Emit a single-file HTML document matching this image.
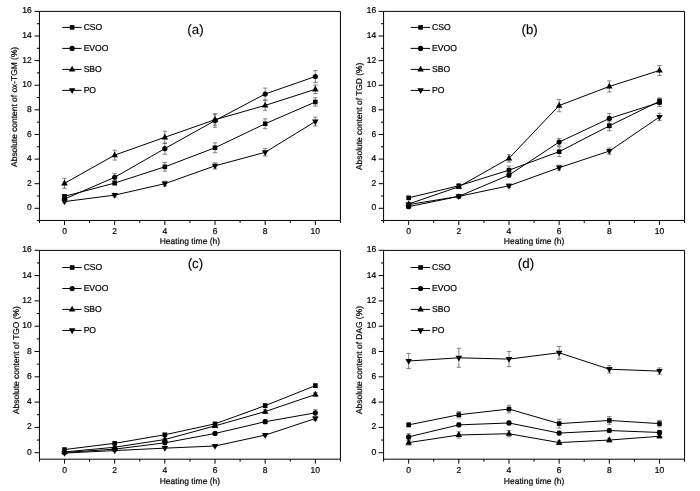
<!DOCTYPE html>
<html><head><meta charset="utf-8"><title>Figure</title>
<style>
html,body{margin:0;padding:0;background:#fff;}
body{width:700px;height:491px;overflow:hidden;font-family:"Liberation Sans",sans-serif;}
svg{display:block;will-change:transform;text-rendering:geometricPrecision;font-family:"Liberation Sans",sans-serif;fill:#000;}
text{stroke:#000;stroke-width:0.2px;paint-order:stroke;}
</style></head><body>
<svg width="700" height="491" viewBox="0 0 700 491">
<rect width="700" height="491" fill="#fff"/>
<g><path d="M39.43 11.4H340.43V220.45H39.43Z" fill="none" stroke="#000" stroke-width="1.0"/>
<path d="M36.83 220.61H39.43M34.53 208.30H39.43M36.83 195.99H39.43M34.53 183.69H39.43M36.83 171.38H39.43M34.53 159.08H39.43M36.83 146.77H39.43M34.53 134.46H39.43M36.83 122.16H39.43M34.53 109.85H39.43M36.83 97.55H39.43M34.53 85.24H39.43M36.83 72.93H39.43M34.53 60.63H39.43M36.83 48.32H39.43M34.53 36.02H39.43M36.83 23.71H39.43M34.53 11.40H39.43M39.43 220.45V222.95M64.51 220.45V224.95M89.59 220.45V222.95M114.68 220.45V224.95M139.76 220.45V222.95M164.84 220.45V224.95M189.93 220.45V222.95M215.01 220.45V224.95M240.09 220.45V222.95M265.17 220.45V224.95M290.26 220.45V222.95M315.34 220.45V224.95M340.42 220.45V222.95" stroke="#000" stroke-width="1.0" fill="none"/>
<text x="31.83" y="210.35" text-anchor="end" font-size="8.5">0</text>
<text x="31.83" y="185.74" text-anchor="end" font-size="8.5">2</text>
<text x="31.83" y="161.13" text-anchor="end" font-size="8.5">4</text>
<text x="31.83" y="136.51" text-anchor="end" font-size="8.5">6</text>
<text x="31.83" y="111.90" text-anchor="end" font-size="8.5">8</text>
<text x="31.83" y="87.29" text-anchor="end" font-size="8.5">10</text>
<text x="31.83" y="62.68" text-anchor="end" font-size="8.5">12</text>
<text x="31.83" y="38.07" text-anchor="end" font-size="8.5">14</text>
<text x="31.83" y="13.45" text-anchor="end" font-size="8.5">16</text>
<text x="64.51" y="234.15" text-anchor="middle" font-size="8.5">0</text>
<text x="114.68" y="234.15" text-anchor="middle" font-size="8.5">2</text>
<text x="164.84" y="234.15" text-anchor="middle" font-size="8.5">4</text>
<text x="215.01" y="234.15" text-anchor="middle" font-size="8.5">6</text>
<text x="265.17" y="234.15" text-anchor="middle" font-size="8.5">8</text>
<text x="315.34" y="234.15" text-anchor="middle" font-size="8.5">10</text>
<text x="189.93" y="243.50" text-anchor="middle" font-size="8.5">Heating time (h)</text>
<text transform="translate(16.80 166.90) rotate(-90)" font-size="8.42">Absolute content of ox-TGM (%)</text>
<text x="195.5" y="33.5" text-anchor="middle" style="stroke-width:0.12px" font-size="13.3">(a)</text>
<path d="M62.28 27.4H81.56" stroke="#000" stroke-width="1.0"/>
<rect x="69.83" y="25.10" width="4.6" height="4.6"/>
<text x="83.63" y="30.15" font-size="8.6">CSO</text>
<path d="M62.28 48.4H81.56" stroke="#000" stroke-width="1.0"/>
<circle cx="72.13" cy="48.40" r="2.6"/>
<text x="83.63" y="51.15" font-size="8.6">EVOO</text>
<path d="M62.28 69.4H81.56" stroke="#000" stroke-width="1.0"/>
<path d="M72.13 65.69L75.38 71.49L68.88 71.49Z"/>
<text x="83.63" y="72.15" font-size="8.6">SBO</text>
<path d="M62.28 90.4H81.56" stroke="#000" stroke-width="1.0"/>
<path d="M72.13 94.11L75.38 88.31L68.88 88.31Z"/>
<text x="83.63" y="93.15" font-size="8.6">PO</text>
<path d="M64.51 194.52V198.21M62.31 194.52h4.4M62.31 198.21h4.4M114.68 181.23V184.92M112.48 181.23h4.4M112.48 184.92h4.4M164.84 162.52V171.14M162.64 162.52h4.4M162.64 171.14h4.4M215.01 142.83V152.68M212.81 142.83h4.4M212.81 152.68h4.4M265.17 118.84V128.68M262.97 118.84h4.4M262.97 128.68h4.4M315.34 97.79V106.16M313.14 97.79h4.4M313.14 106.16h4.4M64.51 197.22V200.92M62.31 197.22h4.4M62.31 200.92h4.4M114.68 173.60V180.98M112.48 173.60h4.4M112.48 180.98h4.4M164.84 142.96V154.28M162.64 142.96h4.4M162.64 154.28h4.4M215.01 113.79V127.33M212.81 113.79h4.4M212.81 127.33h4.4M265.17 88.07V99.88M262.97 88.07h4.4M262.97 99.88h4.4M315.34 70.60V82.41M313.14 70.60h4.4M313.14 82.41h4.4M64.51 178.27V188.36M62.31 178.27h4.4M62.31 188.36h4.4M114.68 150.22V160.06M112.48 150.22h4.4M112.48 160.06h4.4M164.84 131.14V143.45M162.64 131.14h4.4M162.64 143.45h4.4M215.01 114.16V125.23M212.81 114.16h4.4M212.81 125.23h4.4M265.17 100.50V110.34M262.97 100.50h4.4M262.97 110.34h4.4M315.34 84.99V93.61M313.14 84.99h4.4M313.14 93.61h4.4M64.51 200.36V202.82M62.31 200.36h4.4M62.31 202.82h4.4M114.68 193.29V196.98M112.48 193.29h4.4M112.48 196.98h4.4M164.84 181.23V186.15M162.64 181.23h4.4M162.64 186.15h4.4M215.01 162.77V168.92M212.81 162.77h4.4M212.81 168.92h4.4M265.17 148.62V156.00M262.97 148.62h4.4M262.97 156.00h4.4M315.34 117.11V125.97M313.14 117.11h4.4M313.14 125.97h4.4" stroke="#555" stroke-width="0.7" fill="none"/>
<polyline fill="none" stroke="#000" stroke-width="1.0" points="64.51,196.36 114.68,183.07 164.84,166.83 215.01,147.75 265.17,123.76 315.34,101.98"/>
<rect x="62.21" y="194.06" width="4.6" height="4.6"/>
<rect x="112.38" y="180.77" width="4.6" height="4.6"/>
<rect x="162.54" y="164.53" width="4.6" height="4.6"/>
<rect x="212.71" y="145.45" width="4.6" height="4.6"/>
<rect x="262.87" y="121.46" width="4.6" height="4.6"/>
<rect x="313.04" y="99.68" width="4.6" height="4.6"/>
<polyline fill="none" stroke="#000" stroke-width="1.0" points="64.51,199.07 114.68,177.29 164.84,148.62 215.01,120.56 265.17,93.98 315.34,76.50"/>
<circle cx="64.51" cy="199.07" r="2.6"/>
<circle cx="114.68" cy="177.29" r="2.6"/>
<circle cx="164.84" cy="148.62" r="2.6"/>
<circle cx="215.01" cy="120.56" r="2.6"/>
<circle cx="265.17" cy="93.98" r="2.6"/>
<circle cx="315.34" cy="76.50" r="2.6"/>
<polyline fill="none" stroke="#000" stroke-width="1.0" points="64.51,183.32 114.68,155.14 164.84,137.29 215.01,119.70 265.17,105.42 315.34,89.30"/>
<path d="M64.51 179.61L67.76 185.41L61.26 185.41Z"/>
<path d="M114.68 151.43L117.93 157.23L111.43 157.23Z"/>
<path d="M164.84 133.58L168.09 139.38L161.59 139.38Z"/>
<path d="M215.01 115.98L218.26 121.78L211.76 121.78Z"/>
<path d="M265.17 101.71L268.42 107.51L261.92 107.51Z"/>
<path d="M315.34 85.59L318.59 91.39L312.09 91.39Z"/>
<polyline fill="none" stroke="#000" stroke-width="1.0" points="64.51,201.59 114.68,195.13 164.84,183.69 215.01,165.84 265.17,152.31 315.34,121.54"/>
<path d="M64.51 205.31L67.76 199.51L61.26 199.51Z"/>
<path d="M114.68 198.84L117.93 193.04L111.43 193.04Z"/>
<path d="M164.84 187.40L168.09 181.60L161.59 181.60Z"/>
<path d="M215.01 169.56L218.26 163.76L211.76 163.76Z"/>
<path d="M265.17 156.02L268.42 150.22L261.92 150.22Z"/>
<path d="M315.34 125.25L318.59 119.45L312.09 119.45Z"/></g>
<g><path d="M383.57 11.4H684.57V220.45H383.57Z" fill="none" stroke="#000" stroke-width="1.0"/>
<path d="M380.97 220.61H383.57M378.67 208.30H383.57M380.97 195.99H383.57M378.67 183.69H383.57M380.97 171.38H383.57M378.67 159.08H383.57M380.97 146.77H383.57M378.67 134.46H383.57M380.97 122.16H383.57M378.67 109.85H383.57M380.97 97.55H383.57M378.67 85.24H383.57M380.97 72.93H383.57M378.67 60.63H383.57M380.97 48.32H383.57M378.67 36.02H383.57M380.97 23.71H383.57M378.67 11.40H383.57M383.57 220.45V222.95M408.65 220.45V224.95M433.73 220.45V222.95M458.82 220.45V224.95M483.90 220.45V222.95M508.98 220.45V224.95M534.06 220.45V222.95M559.15 220.45V224.95M584.23 220.45V222.95M609.31 220.45V224.95M634.40 220.45V222.95M659.48 220.45V224.95M684.56 220.45V222.95" stroke="#000" stroke-width="1.0" fill="none"/>
<text x="376.27" y="210.35" text-anchor="end" font-size="8.5">0</text>
<text x="376.27" y="185.74" text-anchor="end" font-size="8.5">2</text>
<text x="376.27" y="161.13" text-anchor="end" font-size="8.5">4</text>
<text x="376.27" y="136.51" text-anchor="end" font-size="8.5">6</text>
<text x="376.27" y="111.90" text-anchor="end" font-size="8.5">8</text>
<text x="376.27" y="87.29" text-anchor="end" font-size="8.5">10</text>
<text x="376.27" y="62.68" text-anchor="end" font-size="8.5">12</text>
<text x="376.27" y="38.07" text-anchor="end" font-size="8.5">14</text>
<text x="376.27" y="13.45" text-anchor="end" font-size="8.5">16</text>
<text x="408.65" y="234.15" text-anchor="middle" font-size="8.5">0</text>
<text x="458.82" y="234.15" text-anchor="middle" font-size="8.5">2</text>
<text x="508.98" y="234.15" text-anchor="middle" font-size="8.5">4</text>
<text x="559.15" y="234.15" text-anchor="middle" font-size="8.5">6</text>
<text x="609.31" y="234.15" text-anchor="middle" font-size="8.5">8</text>
<text x="659.48" y="234.15" text-anchor="middle" font-size="8.5">10</text>
<text x="534.07" y="243.50" text-anchor="middle" font-size="8.5">Heating time (h)</text>
<text transform="translate(362.20 170.00) rotate(-90)" font-size="8.42">Absolute content of TGD (%)</text>
<text x="529.6" y="33.5" text-anchor="middle" style="stroke-width:0.12px" font-size="13.3">(b)</text>
<path d="M410.72 27.4H430.00" stroke="#000" stroke-width="1.0"/>
<rect x="418.27" y="25.10" width="4.6" height="4.6"/>
<text x="432.07" y="30.15" font-size="8.6">CSO</text>
<path d="M410.72 48.4H430.00" stroke="#000" stroke-width="1.0"/>
<circle cx="420.57" cy="48.40" r="2.6"/>
<text x="432.07" y="51.15" font-size="8.6">EVOO</text>
<path d="M410.72 69.4H430.00" stroke="#000" stroke-width="1.0"/>
<path d="M420.57 65.69L423.82 71.49L417.32 71.49Z"/>
<text x="432.07" y="72.15" font-size="8.6">SBO</text>
<path d="M410.72 90.4H430.00" stroke="#000" stroke-width="1.0"/>
<path d="M420.57 94.11L423.82 88.31L417.32 88.31Z"/>
<text x="432.07" y="93.15" font-size="8.6">PO</text>
<path d="M408.65 196.61V199.07M406.45 196.61h4.4M406.45 199.07h4.4M458.82 184.55V187.01M456.62 184.55h4.4M456.62 187.01h4.4M508.98 166.09V174.21M506.78 166.09h4.4M506.78 174.21h4.4M559.15 146.77V156.61M556.95 146.77h4.4M556.95 156.61h4.4M609.31 120.93V130.77M607.11 120.93h4.4M607.11 130.77h4.4M659.48 97.92V104.56M657.28 97.92h4.4M657.28 104.56h4.4M408.65 205.47V207.93M406.45 205.47h4.4M406.45 207.93h4.4M458.82 195.13V197.59M456.62 195.13h4.4M456.62 197.59h4.4M508.98 172.61V177.54M506.78 172.61h4.4M506.78 177.54h4.4M559.15 138.28V145.91M556.95 138.28h4.4M556.95 145.91h4.4M609.31 113.54V123.39M607.11 113.54h4.4M607.11 123.39h4.4M659.48 98.41V106.53M657.28 98.41h4.4M657.28 106.53h4.4M408.65 202.76V205.22M406.45 202.76h4.4M406.45 205.22h4.4M458.82 184.92V188.61M456.62 184.92h4.4M456.62 188.61h4.4M508.98 154.65V162.03M506.78 154.65h4.4M506.78 162.03h4.4M559.15 99.39V111.70M556.95 99.39h4.4M556.95 111.70h4.4M609.31 80.93V92.01M607.11 80.93h4.4M607.11 92.01h4.4M659.48 65.55V75.40M657.28 65.55h4.4M657.28 75.40h4.4M408.65 203.38V205.84M406.45 203.38h4.4M406.45 205.84h4.4M458.82 195.13V197.59M456.62 195.13h4.4M456.62 197.59h4.4M508.98 183.93V187.63M506.78 183.93h4.4M506.78 187.63h4.4M559.15 165.23V170.15M556.95 165.23h4.4M556.95 170.15h4.4M609.31 148.00V154.15M607.11 148.00h4.4M607.11 154.15h4.4M659.48 113.30V120.68M657.28 113.30h4.4M657.28 120.68h4.4" stroke="#555" stroke-width="0.7" fill="none"/>
<polyline fill="none" stroke="#000" stroke-width="1.0" points="408.65,197.84 458.82,185.78 508.98,170.15 559.15,151.69 609.31,125.85 659.48,101.24"/>
<rect x="406.35" y="195.54" width="4.6" height="4.6"/>
<rect x="456.52" y="183.48" width="4.6" height="4.6"/>
<rect x="506.68" y="167.85" width="4.6" height="4.6"/>
<rect x="556.85" y="149.39" width="4.6" height="4.6"/>
<rect x="607.01" y="123.55" width="4.6" height="4.6"/>
<rect x="657.18" y="98.94" width="4.6" height="4.6"/>
<polyline fill="none" stroke="#000" stroke-width="1.0" points="408.65,206.70 458.82,196.36 508.98,175.07 559.15,142.09 609.31,118.47 659.48,102.47"/>
<circle cx="408.65" cy="206.70" r="2.6"/>
<circle cx="458.82" cy="196.36" r="2.6"/>
<circle cx="508.98" cy="175.07" r="2.6"/>
<circle cx="559.15" cy="142.09" r="2.6"/>
<circle cx="609.31" cy="118.47" r="2.6"/>
<circle cx="659.48" cy="102.47" r="2.6"/>
<polyline fill="none" stroke="#000" stroke-width="1.0" points="408.65,203.99 458.82,186.76 508.98,158.34 559.15,105.54 609.31,86.47 659.48,70.47"/>
<path d="M408.65 200.28L411.90 206.08L405.40 206.08Z"/>
<path d="M458.82 183.05L462.07 188.85L455.57 188.85Z"/>
<path d="M508.98 154.63L512.23 160.43L505.73 160.43Z"/>
<path d="M559.15 101.83L562.40 107.63L555.90 107.63Z"/>
<path d="M609.31 82.76L612.56 88.56L606.06 88.56Z"/>
<path d="M659.48 66.76L662.73 72.56L656.23 72.56Z"/>
<polyline fill="none" stroke="#000" stroke-width="1.0" points="408.65,204.61 458.82,196.36 508.98,185.78 559.15,167.69 609.31,151.08 659.48,116.99"/>
<path d="M408.65 208.32L411.90 202.52L405.40 202.52Z"/>
<path d="M458.82 200.08L462.07 194.28L455.57 194.28Z"/>
<path d="M508.98 189.49L512.23 183.69L505.73 183.69Z"/>
<path d="M559.15 171.40L562.40 165.60L555.90 165.60Z"/>
<path d="M609.31 154.79L612.56 148.99L606.06 148.99Z"/>
<path d="M659.48 120.70L662.73 114.90L656.23 114.90Z"/></g>
<g><path d="M39.43 250.4H340.43V459.2H39.43Z" fill="none" stroke="#000" stroke-width="1.0"/>
<path d="M34.53 452.70H39.43M36.83 440.05H39.43M34.53 427.40H39.43M36.83 414.75H39.43M34.53 402.10H39.43M36.83 389.45H39.43M34.53 376.80H39.43M36.83 364.15H39.43M34.53 351.50H39.43M36.83 338.85H39.43M34.53 326.20H39.43M36.83 313.55H39.43M34.53 300.90H39.43M36.83 288.25H39.43M34.53 275.60H39.43M36.83 262.95H39.43M34.53 250.30H39.43M39.43 459.2V461.70M64.51 459.2V463.70M89.59 459.2V461.70M114.68 459.2V463.70M139.76 459.2V461.70M164.84 459.2V463.70M189.93 459.2V461.70M215.01 459.2V463.70M240.09 459.2V461.70M265.17 459.2V463.70M290.26 459.2V461.70M315.34 459.2V463.70M340.42 459.2V461.70" stroke="#000" stroke-width="1.0" fill="none"/>
<text x="31.83" y="454.75" text-anchor="end" font-size="8.5">0</text>
<text x="31.83" y="429.45" text-anchor="end" font-size="8.5">2</text>
<text x="31.83" y="404.15" text-anchor="end" font-size="8.5">4</text>
<text x="31.83" y="378.85" text-anchor="end" font-size="8.5">6</text>
<text x="31.83" y="353.55" text-anchor="end" font-size="8.5">8</text>
<text x="31.83" y="328.25" text-anchor="end" font-size="8.5">10</text>
<text x="31.83" y="302.95" text-anchor="end" font-size="8.5">12</text>
<text x="31.83" y="277.65" text-anchor="end" font-size="8.5">14</text>
<text x="31.83" y="252.35" text-anchor="end" font-size="8.5">16</text>
<text x="64.51" y="472.65" text-anchor="middle" font-size="8.5">0</text>
<text x="114.68" y="472.65" text-anchor="middle" font-size="8.5">2</text>
<text x="164.84" y="472.65" text-anchor="middle" font-size="8.5">4</text>
<text x="215.01" y="472.65" text-anchor="middle" font-size="8.5">6</text>
<text x="265.17" y="472.65" text-anchor="middle" font-size="8.5">8</text>
<text x="315.34" y="472.65" text-anchor="middle" font-size="8.5">10</text>
<text x="189.93" y="484.35" text-anchor="middle" font-size="8.5">Heating time (h)</text>
<text transform="translate(19.30 414.00) rotate(-90)" font-size="8.42">Absolute content of TGO (%)</text>
<text x="195.4" y="267.9" text-anchor="middle" style="stroke-width:0.12px" font-size="13.3">(c)</text>
<path d="M62.28 267.5H81.56" stroke="#000" stroke-width="1.0"/>
<rect x="69.83" y="265.20" width="4.6" height="4.6"/>
<text x="83.63" y="270.25" font-size="8.6">CSO</text>
<path d="M62.28 288.5H81.56" stroke="#000" stroke-width="1.0"/>
<circle cx="72.13" cy="288.50" r="2.6"/>
<text x="83.63" y="291.25" font-size="8.6">EVOO</text>
<path d="M62.28 309.4H81.56" stroke="#000" stroke-width="1.0"/>
<path d="M72.13 305.69L75.38 311.49L68.88 311.49Z"/>
<text x="83.63" y="312.15" font-size="8.6">SBO</text>
<path d="M62.28 330.45H81.56" stroke="#000" stroke-width="1.0"/>
<path d="M72.13 334.16L75.38 328.36L68.88 328.36Z"/>
<text x="83.63" y="333.20" font-size="8.6">PO</text>
<path d="M64.51 448.90V450.17M62.31 448.90h4.4M62.31 450.17h4.4M114.68 442.71V443.97M112.48 442.71h4.4M112.48 443.97h4.4M164.84 433.47V436.00M162.64 433.47h4.4M162.64 436.00h4.4M215.01 422.59V425.12M212.81 422.59h4.4M212.81 425.12h4.4M265.17 403.74V407.54M262.97 403.74h4.4M262.97 407.54h4.4M315.34 383.76V387.55M313.14 383.76h4.4M313.14 387.55h4.4M64.51 451.81V453.08M62.31 451.81h4.4M62.31 453.08h4.4M114.68 448.53V449.79M112.48 448.53h4.4M112.48 449.79h4.4M164.84 441.57V444.10M162.64 441.57h4.4M162.64 444.10h4.4M215.01 432.21V434.74M212.81 432.21h4.4M212.81 434.74h4.4M265.17 419.81V423.60M262.97 419.81h4.4M262.97 423.60h4.4M315.34 409.69V416.01M313.14 409.69h4.4M313.14 416.01h4.4M64.51 451.31V452.57M62.31 451.31h4.4M62.31 452.57h4.4M114.68 446.63V447.89M112.48 446.63h4.4M112.48 447.89h4.4M164.84 438.28V440.81M162.64 438.28h4.4M162.64 440.81h4.4M215.01 424.62V427.15M212.81 424.62h4.4M212.81 427.15h4.4M265.17 409.69V413.49M262.97 409.69h4.4M262.97 413.49h4.4M315.34 392.61V396.41M313.14 392.61h4.4M313.14 396.41h4.4M64.51 452.45V453.71M62.31 452.45h4.4M62.31 453.71h4.4M114.68 449.92V451.18M112.48 449.92h4.4M112.48 451.18h4.4M164.84 447.51V448.78M162.64 447.51h4.4M162.64 448.78h4.4M215.01 445.36V446.63M212.81 445.36h4.4M212.81 446.63h4.4M265.17 433.85V436.38M262.97 433.85h4.4M262.97 436.38h4.4M315.34 416.65V420.44M313.14 416.65h4.4M313.14 420.44h4.4" stroke="#555" stroke-width="0.7" fill="none"/>
<polyline fill="none" stroke="#000" stroke-width="1.0" points="64.51,449.54 114.68,443.34 164.84,434.74 215.01,423.86 265.17,405.64 315.34,385.65"/>
<rect x="62.21" y="447.24" width="4.6" height="4.6"/>
<rect x="112.38" y="441.04" width="4.6" height="4.6"/>
<rect x="162.54" y="432.44" width="4.6" height="4.6"/>
<rect x="212.71" y="421.56" width="4.6" height="4.6"/>
<rect x="262.87" y="403.34" width="4.6" height="4.6"/>
<rect x="313.04" y="383.35" width="4.6" height="4.6"/>
<polyline fill="none" stroke="#000" stroke-width="1.0" points="64.51,452.45 114.68,449.16 164.84,442.83 215.01,433.47 265.17,421.71 315.34,412.85"/>
<circle cx="64.51" cy="452.45" r="2.6"/>
<circle cx="114.68" cy="449.16" r="2.6"/>
<circle cx="164.84" cy="442.83" r="2.6"/>
<circle cx="215.01" cy="433.47" r="2.6"/>
<circle cx="265.17" cy="421.71" r="2.6"/>
<circle cx="315.34" cy="412.85" r="2.6"/>
<polyline fill="none" stroke="#000" stroke-width="1.0" points="64.51,451.94 114.68,447.26 164.84,439.54 215.01,425.88 265.17,411.59 315.34,394.51"/>
<path d="M64.51 448.23L67.76 454.03L61.26 454.03Z"/>
<path d="M114.68 443.55L117.93 449.35L111.43 449.35Z"/>
<path d="M164.84 435.83L168.09 441.63L161.59 441.63Z"/>
<path d="M215.01 422.17L218.26 427.97L211.76 427.97Z"/>
<path d="M265.17 407.88L268.42 413.68L261.92 413.68Z"/>
<path d="M315.34 390.80L318.59 396.60L312.09 396.60Z"/>
<polyline fill="none" stroke="#000" stroke-width="1.0" points="64.51,453.08 114.68,450.55 164.84,448.15 215.01,446.00 265.17,435.12 315.34,418.54"/>
<path d="M64.51 456.79L67.76 450.99L61.26 450.99Z"/>
<path d="M114.68 454.26L117.93 448.46L111.43 448.46Z"/>
<path d="M164.84 451.86L168.09 446.06L161.59 446.06Z"/>
<path d="M215.01 449.71L218.26 443.91L211.76 443.91Z"/>
<path d="M265.17 438.83L268.42 433.03L261.92 433.03Z"/>
<path d="M315.34 422.26L318.59 416.46L312.09 416.46Z"/></g>
<g><path d="M383.57 250.4H684.57V459.2H383.57Z" fill="none" stroke="#000" stroke-width="1.0"/>
<path d="M378.67 452.70H383.57M380.97 440.05H383.57M378.67 427.40H383.57M380.97 414.75H383.57M378.67 402.10H383.57M380.97 389.45H383.57M378.67 376.80H383.57M380.97 364.15H383.57M378.67 351.50H383.57M380.97 338.85H383.57M378.67 326.20H383.57M380.97 313.55H383.57M378.67 300.90H383.57M380.97 288.25H383.57M378.67 275.60H383.57M380.97 262.95H383.57M378.67 250.30H383.57M383.57 459.2V461.70M408.65 459.2V463.70M433.73 459.2V461.70M458.82 459.2V463.70M483.90 459.2V461.70M508.98 459.2V463.70M534.06 459.2V461.70M559.15 459.2V463.70M584.23 459.2V461.70M609.31 459.2V463.70M634.40 459.2V461.70M659.48 459.2V463.70M684.56 459.2V461.70" stroke="#000" stroke-width="1.0" fill="none"/>
<text x="376.27" y="454.75" text-anchor="end" font-size="8.5">0</text>
<text x="376.27" y="429.45" text-anchor="end" font-size="8.5">2</text>
<text x="376.27" y="404.15" text-anchor="end" font-size="8.5">4</text>
<text x="376.27" y="378.85" text-anchor="end" font-size="8.5">6</text>
<text x="376.27" y="353.55" text-anchor="end" font-size="8.5">8</text>
<text x="376.27" y="328.25" text-anchor="end" font-size="8.5">10</text>
<text x="376.27" y="302.95" text-anchor="end" font-size="8.5">12</text>
<text x="376.27" y="277.65" text-anchor="end" font-size="8.5">14</text>
<text x="376.27" y="252.35" text-anchor="end" font-size="8.5">16</text>
<text x="408.65" y="472.65" text-anchor="middle" font-size="8.5">0</text>
<text x="458.82" y="472.65" text-anchor="middle" font-size="8.5">2</text>
<text x="508.98" y="472.65" text-anchor="middle" font-size="8.5">4</text>
<text x="559.15" y="472.65" text-anchor="middle" font-size="8.5">6</text>
<text x="609.31" y="472.65" text-anchor="middle" font-size="8.5">8</text>
<text x="659.48" y="472.65" text-anchor="middle" font-size="8.5">10</text>
<text x="534.07" y="484.35" text-anchor="middle" font-size="8.5">Heating time (h)</text>
<text transform="translate(361.90 414.00) rotate(-90)" font-size="8.42">Absolute content of DAG (%)</text>
<text x="526.0" y="268.0" text-anchor="middle" style="stroke-width:0.12px" font-size="13.3">(d)</text>
<path d="M410.72 267.5H430.00" stroke="#000" stroke-width="1.0"/>
<rect x="418.27" y="265.20" width="4.6" height="4.6"/>
<text x="432.07" y="270.25" font-size="8.6">CSO</text>
<path d="M410.72 288.5H430.00" stroke="#000" stroke-width="1.0"/>
<circle cx="420.57" cy="288.50" r="2.6"/>
<text x="432.07" y="291.25" font-size="8.6">EVOO</text>
<path d="M410.72 309.4H430.00" stroke="#000" stroke-width="1.0"/>
<path d="M420.57 305.69L423.82 311.49L417.32 311.49Z"/>
<text x="432.07" y="312.15" font-size="8.6">SBO</text>
<path d="M410.72 330.45H430.00" stroke="#000" stroke-width="1.0"/>
<path d="M420.57 334.16L423.82 328.36L417.32 328.36Z"/>
<text x="432.07" y="333.20" font-size="8.6">PO</text>
<path d="M408.65 422.97V426.77M406.45 422.97h4.4M406.45 426.77h4.4M458.82 411.59V417.91M456.62 411.59h4.4M456.62 417.91h4.4M508.98 405.26V412.85M506.78 405.26h4.4M506.78 412.85h4.4M559.15 419.18V428.03M556.95 419.18h4.4M556.95 428.03h4.4M609.31 416.65V424.24M607.11 416.65h4.4M607.11 424.24h4.4M659.48 420.44V426.77M657.28 420.44h4.4M657.28 426.77h4.4M408.65 433.72V440.05M406.45 433.72h4.4M406.45 440.05h4.4M458.82 422.97V426.77M456.62 422.97h4.4M456.62 426.77h4.4M508.98 421.07V424.87M506.78 421.07h4.4M506.78 424.87h4.4M559.15 431.19V434.99M556.95 431.19h4.4M556.95 434.99h4.4M609.31 428.66V432.46M607.11 428.66h4.4M607.11 432.46h4.4M659.48 430.56V434.36M657.28 430.56h4.4M657.28 434.36h4.4M408.65 440.05V445.11M406.45 440.05h4.4M406.45 445.11h4.4M458.82 431.83V438.15M456.62 431.83h4.4M456.62 438.15h4.4M508.98 430.56V436.89M506.78 430.56h4.4M506.78 436.89h4.4M559.15 440.68V444.48M556.95 440.68h4.4M556.95 444.48h4.4M609.31 438.15V441.95M607.11 438.15h4.4M607.11 441.95h4.4M659.48 434.36V438.15M657.28 434.36h4.4M657.28 438.15h4.4M408.65 353.40V368.58M406.45 353.40h4.4M406.45 368.58h4.4M458.82 348.34V367.31M456.62 348.34h4.4M456.62 367.31h4.4M508.98 351.50V366.68M506.78 351.50h4.4M506.78 366.68h4.4M559.15 346.44V359.09M556.95 346.44h4.4M556.95 359.09h4.4M609.31 365.41V373.00M607.11 365.41h4.4M607.11 373.00h4.4M659.48 367.94V374.27M657.28 367.94h4.4M657.28 374.27h4.4" stroke="#555" stroke-width="0.7" fill="none"/>
<polyline fill="none" stroke="#000" stroke-width="1.0" points="408.65,424.87 458.82,414.75 508.98,409.06 559.15,423.61 609.31,420.44 659.48,423.61"/>
<rect x="406.35" y="422.57" width="4.6" height="4.6"/>
<rect x="456.52" y="412.45" width="4.6" height="4.6"/>
<rect x="506.68" y="406.76" width="4.6" height="4.6"/>
<rect x="556.85" y="421.31" width="4.6" height="4.6"/>
<rect x="607.01" y="418.14" width="4.6" height="4.6"/>
<rect x="657.18" y="421.31" width="4.6" height="4.6"/>
<polyline fill="none" stroke="#000" stroke-width="1.0" points="408.65,436.89 458.82,424.87 508.98,422.97 559.15,433.09 609.31,430.56 659.48,432.46"/>
<circle cx="408.65" cy="436.89" r="2.6"/>
<circle cx="458.82" cy="424.87" r="2.6"/>
<circle cx="508.98" cy="422.97" r="2.6"/>
<circle cx="559.15" cy="433.09" r="2.6"/>
<circle cx="609.31" cy="430.56" r="2.6"/>
<circle cx="659.48" cy="432.46" r="2.6"/>
<polyline fill="none" stroke="#000" stroke-width="1.0" points="408.65,442.58 458.82,434.99 508.98,433.72 559.15,442.58 609.31,440.05 659.48,436.25"/>
<path d="M408.65 438.87L411.90 444.67L405.40 444.67Z"/>
<path d="M458.82 431.28L462.07 437.08L455.57 437.08Z"/>
<path d="M508.98 430.01L512.23 435.81L505.73 435.81Z"/>
<path d="M559.15 438.87L562.40 444.67L555.90 444.67Z"/>
<path d="M609.31 436.34L612.56 442.14L606.06 442.14Z"/>
<path d="M659.48 432.54L662.73 438.34L656.23 438.34Z"/>
<polyline fill="none" stroke="#000" stroke-width="1.0" points="408.65,360.99 458.82,357.82 508.98,359.09 559.15,352.76 609.31,369.21 659.48,371.11"/>
<path d="M408.65 364.70L411.90 358.90L405.40 358.90Z"/>
<path d="M458.82 361.54L462.07 355.74L455.57 355.74Z"/>
<path d="M508.98 362.80L512.23 357.00L505.73 357.00Z"/>
<path d="M559.15 356.48L562.40 350.68L555.90 350.68Z"/>
<path d="M609.31 372.92L612.56 367.12L606.06 367.12Z"/>
<path d="M659.48 374.82L662.73 369.02L656.23 369.02Z"/></g>
</svg>
</body></html>
